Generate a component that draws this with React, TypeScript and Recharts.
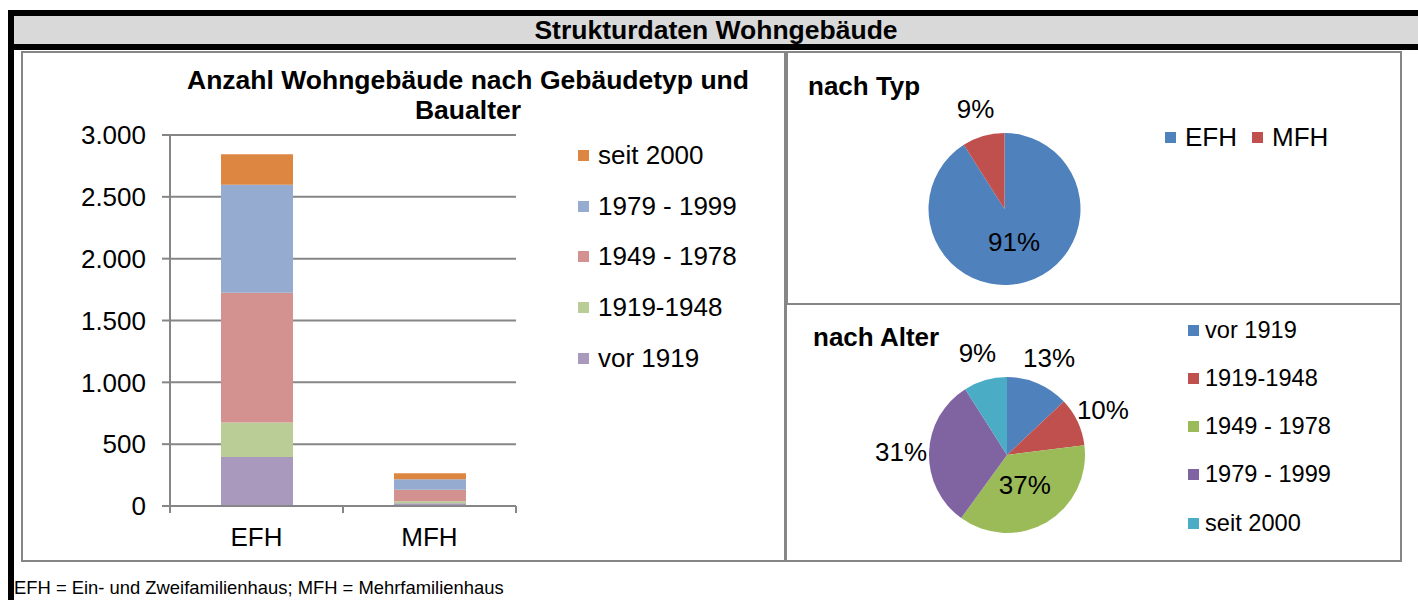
import React from 'react';
import { BarChart, Bar, XAxis, YAxis, CartesianGrid, Legend, PieChart, Pie, Cell } from 'recharts';

const FONT = '"Liberation Sans", Arial, Helvetica, sans-serif';

// ---- data ----
const categories = ['EFH', 'MFH'];
const vor1919 = [396, 22];
const y1919_1948 = [280, 17];
const y1949_1978 = [1048, 92];
const y1979_1999 = [874, 86];
const seit2000 = [246, 48];
const yTicks = [0, 500, 1000, 1500, 2000, 2500, 3000];

const typeLabels = ['EFH', 'MFH'];
const typePercents = [91, 9];
const ageLabels = ['vor 1919', '1919-1948', '1949 - 1978', '1979 - 1999', 'seit 2000'];
const agePercents = [13, 10, 37, 31, 9];

const barColors = ['#a99abd', '#bacd96', '#d3918f', '#95abd0', '#dd8642'];
const pieTypeColors = ['#4f81bd', '#c0504d'];
const pieAgeColors = ['#4f81bd', '#c0504d', '#9bbb59', '#8064a2', '#4bacc6'];

const seriesKeys = ['s0', 's1', 's2', 's3', 's4'];
const seriesValues = [vor1919, y1919_1948, y1949_1978, y1979_1999, seit2000];

const barData = categories.map((c, i) => {
  const row: any = { cat: c };
  seriesKeys.forEach((k, j) => (row[k] = seriesValues[j][i]));
  return row;
});
const typeData = typeLabels.map((n, i) => ({ name: n, value: typePercents[i] }));
const ageData = ageLabels.map((n, i) => ({ name: n, value: agePercents[i] }));

const GRID = '#868686';

const fmt = (v: number) =>
  v >= 1000 ? `${Math.floor(v / 1000)}.${String(v % 1000).padStart(3, '0')}` : String(v);

const byOrder = (order: string[]) => (a: any, b: any) => order.indexOf(a.value) - order.indexOf(b.value);

const XTick = (props: any) => {
  const { x, y, payload, index, visibleTicksCount, width } = props;
  const half = visibleTicksCount && width ? width / visibleTicksCount / 2 : payload?.offset ?? 86.5;
  return (
    <g>
      <line x1={x - half} y1={y} x2={x - half} y2={y + 7} stroke={GRID} strokeWidth={2} />
      {index === visibleTicksCount - 1 && (
        <line x1={x + half} y1={y} x2={x + half} y2={y + 7} stroke={GRID} strokeWidth={2} />
      )}
      <text x={x} y={y + 31} textAnchor="middle" dominantBaseline="central" fontSize={26} fill="#000" fontFamily={FONT}>
        {payload.value}
      </text>
    </g>
  );
};

const RAD = Math.PI / 180;
const pieLabel = (p: any) => {
  const { cx, cy, midAngle, outerRadius, percent, value } = p;
  const inside = percent > 0.33;
  const r = inside ? outerRadius * 0.45 : outerRadius + 28;
  const x = cx + r * Math.cos(-midAngle * RAD);
  const y = cy + r * Math.sin(-midAngle * RAD);
  return (
    <text x={x} y={y} textAnchor="middle" dominantBaseline="central" fontSize={26} fill="#000" fontFamily={FONT}>
      {`${value}%`}
    </text>
  );
};

const Square = ({ color, size = 11 }: { color: string; size?: number }) => (
  <span style={{ display: 'inline-block', width: size, height: size, background: color }} />
);

const BarLegend = (props: any) => {
  const items = [...(props.payload || [])].sort(byOrder(ageLabels)).reverse();
  return (
    <div style={{ fontFamily: FONT, fontSize: 26, color: '#000' }}>
      {items.map((it: any) => (
        <div key={it.value} style={{ height: 50.75, display: 'flex', alignItems: 'center', whiteSpace: 'nowrap' }}>
          <Square color={it.color} />
          <span style={{ marginLeft: 9 }}>{it.value}</span>
        </div>
      ))}
    </div>
  );
};

const TypeLegend = (props: any) => {
  const items = [...(props.payload || [])].sort(byOrder(typeLabels));
  return (
    <div style={{ fontFamily: FONT, fontSize: 26, color: '#000', display: 'flex', alignItems: 'center', height: 30, whiteSpace: 'nowrap' }}>
      {items.map((it: any, i: number) => (
        <div key={it.value} style={{ display: 'flex', alignItems: 'center', marginLeft: i === 0 ? 0 : 15 }}>
          <Square color={it.color} />
          <span style={{ marginLeft: 9 }}>{it.value}</span>
        </div>
      ))}
    </div>
  );
};

const AgeLegend = (props: any) => {
  const items = [...(props.payload || [])].sort(byOrder(ageLabels));
  return (
    <div style={{ fontFamily: FONT, fontSize: 23.6, color: '#000' }}>
      {items.map((it: any) => (
        <div key={it.value} style={{ height: 48.25, display: 'flex', alignItems: 'center', whiteSpace: 'nowrap' }}>
          <Square color={it.color} />
          <span style={{ marginLeft: 6 }}>{it.value}</span>
        </div>
      ))}
    </div>
  );
};

const abs = (l: number, t: number, w: number, h: number, extra: any = {}) => ({
  position: 'absolute' as const, left: l, top: t, width: w, height: h, boxSizing: 'border-box' as const, ...extra,
});

export default function App() {
  const W = 1418;
  const H = 600;
  return (
    <div style={{ position: 'absolute', left: 0, top: 0, width: W, height: H, background: '#fff', fontFamily: FONT, overflow: 'hidden' }}>
      {/* frame */}
      <div style={abs(8, 10, 1410, 6, { background: '#000' })} />
      <div style={abs(8, 10, 6, 590, { background: '#000' })} />
      <div style={abs(14, 16, 1404, 28, { background: '#d9d9d9' })} />
      <div style={abs(14, 44, 1404, 6, { background: '#000' })} />
      <div style={abs(14, 16, 1404, 28, { textAlign: 'center', lineHeight: '28px', fontWeight: 'bold', fontSize: 26.5, color: '#000' })}>
        Strukturdaten Wohngebäude
      </div>

      {/* boxes */}
      <div style={abs(21, 51, 765, 511, { border: `2px solid ${GRID}` })} />
      <div style={abs(786, 51, 616, 254, { border: `2px solid ${GRID}` })} />
      <div style={abs(785, 303, 617, 259, { border: `2px solid ${GRID}` })} />

      {/* bar chart title */}
      <div style={abs(68, 65, 800, 60, { textAlign: 'center', fontWeight: 'bold', fontSize: 26.5, lineHeight: '30px', color: '#000' })}>
        Anzahl Wohngebäude nach Gebäudetyp und
        <br />
        Baualter
      </div>

      <div style={abs(0, 0, W, H)}>
        <BarChart width={W} height={H} data={barData} margin={{ top: 135, right: W - 516, bottom: 0, left: 0 }}>
          <CartesianGrid vertical={false} stroke={GRID} strokeWidth={2} />
          <XAxis
            dataKey="cat"
            height={94}
            axisLine={{ stroke: GRID, strokeWidth: 2 }}
            tickLine={false}
            tickSize={0}
            tickMargin={0}
            tick={<XTick />}
            interval={0}
          />
          <YAxis
            width={170}
            domain={[0, 3000]}
            ticks={yTicks}
            interval={0}
            tickFormatter={fmt}
            axisLine={{ stroke: GRID, strokeWidth: 2 }}
            tickLine={{ stroke: GRID, strokeWidth: 2 }}
            tickSize={8}
            tickMargin={16}
            tick={{ fontSize: 26, fill: '#000', fontFamily: FONT }}
          />
          <Legend
            layout="vertical"
            align="center"
            verticalAlign="middle"
            content={<BarLegend />}
            wrapperStyle={{ left: 578, top: 130, width: 200 }}
          />
          {seriesKeys.map((k, j) => (
            <Bar key={k} dataKey={k} name={ageLabels[j]} stackId="a" fill={barColors[j]} barSize={72} isAnimationActive={false} />
          ))}
        </BarChart>
      </div>

      {/* type pie */}
      <div style={abs(808, 71, 200, 30, { fontWeight: 'bold', fontSize: 26, lineHeight: '30px', color: '#000' })}>nach Typ</div>
      <div style={abs(0, 0, W, H)}>
        <PieChart width={W} height={H} margin={{ top: 0, right: 0, bottom: 0, left: 0 }}>
          <Pie
            data={typeData}
            dataKey="value"
            nameKey="name"
            cx={1004.5}
            cy={209}
            outerRadius={76}
            startAngle={90}
            endAngle={-270}
            stroke="none"
            label={pieLabel}
            labelLine={false}
            isAnimationActive={false}
          >
            {typeData.map((d, i) => (
              <Cell key={d.name} fill={pieTypeColors[i]} />
            ))}
          </Pie>
          <Legend
            layout="vertical"
            align="center"
            verticalAlign="middle"
            content={<TypeLegend />}
            wrapperStyle={{ left: 1165, top: 122, width: 220 }}
          />
        </PieChart>
      </div>

      {/* age pie */}
      <div style={abs(813, 322, 200, 30, { fontWeight: 'bold', fontSize: 26, lineHeight: '30px', color: '#000' })}>nach Alter</div>
      <div style={abs(0, 0, W, H)}>
        <PieChart width={W} height={H} margin={{ top: 0, right: 0, bottom: 0, left: 0 }}>
          <Pie
            data={ageData}
            dataKey="value"
            nameKey="name"
            cx={1007}
            cy={455}
            outerRadius={78}
            startAngle={90}
            endAngle={-270}
            stroke="none"
            label={pieLabel}
            labelLine={false}
            isAnimationActive={false}
          >
            {ageData.map((d, i) => (
              <Cell key={d.name} fill={pieAgeColors[i]} />
            ))}
          </Pie>
          <Legend
            layout="vertical"
            align="center"
            verticalAlign="middle"
            content={<AgeLegend />}
            wrapperStyle={{ left: 1188, top: 306, width: 200 }}
          />
        </PieChart>
      </div>

      {/* footnote */}
      <div style={abs(14, 577, 700, 22, { fontSize: 18.4, lineHeight: '22px', color: '#000', whiteSpace: 'nowrap' })}>
        EFH = Ein- und Zweifamilienhaus; MFH = Mehrfamilienhaus
      </div>
    </div>
  );
}
